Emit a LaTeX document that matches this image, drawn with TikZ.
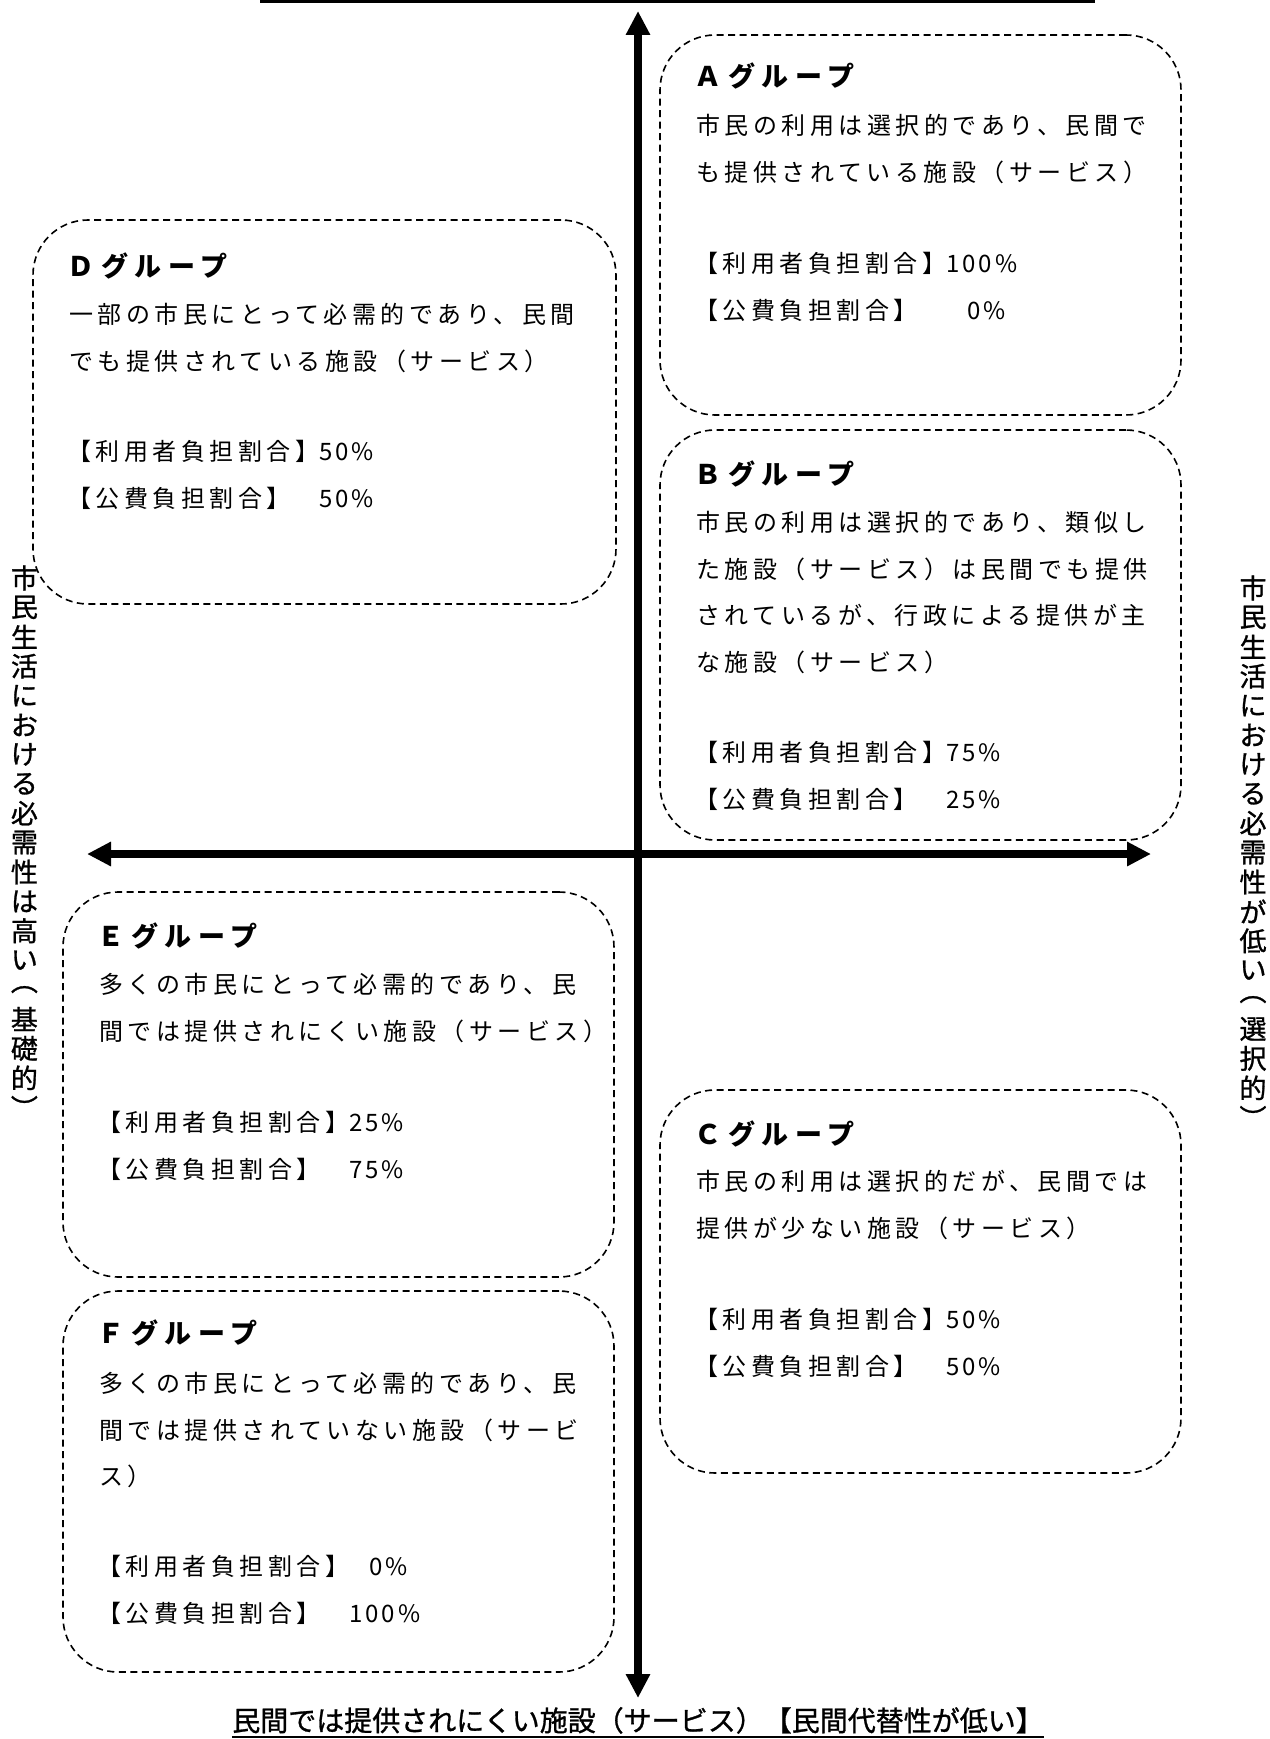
\documentclass[tikz,border=0pt]{standalone}
\usepackage{fontspec}
\usetikzlibrary{arrows.meta}
\newfontfamily\jpbody{Noto Sans CJK JP}[LetterSpace=18.75]
\newfontfamily\jpnum{Noto Sans CJK JP}[LetterSpace=12]
\newfontfamily\jptitle{Noto Sans CJK JP}[LetterSpace=25]
\newfontfamily\jplab{Noto Sans CJK JP}[FakeBold=1]
\newcommand\pc[1]{{\jpnum #1\%}}
\tikzset{
  grp/.style={draw, line width=1.6pt, dash pattern=on 7pt off 4.5pt, rounded corners=55pt, inner sep=0pt},
  bodytxt/.style={anchor=base west, inner sep=0pt, font=\jpbody\fontsize{24pt}{27pt}\selectfont},
  titletxt/.style={anchor=base west, inner sep=0pt, font=\jptitle\bfseries\fontsize{27pt}{32pt}\selectfont},
  sidetxt/.style={inner sep=0pt, font=\jplab\fontsize{27pt}{29pt}\selectfont},
  bottxt/.style={inner sep=0pt, anchor=base, font=\jplab\fontsize{28pt}{30pt}\selectfont},
  axisline/.style={line width=8pt, {Triangle[width=23pt,length=24pt]}-{Triangle[width=23pt,length=24pt]}},
}
\newcommand\txtlines[5]{%
  \foreach \tx [count=\i] in {#5}{%
    \node[bodytxt] (#2\i) at ([shift={(#3,{#4+(\i-1)*46.5})}]#1.north west) {\tx};
  }}
\begin{document}
\begin{tikzpicture}[x=1pt,y=-1pt]
\useasboundingbox (0,0) rectangle (1269,1739);

% top rule
\coordinate (tl) at (260,1.5);
\coordinate (tr) at (1095,1.5);
\draw[line width=3.5pt] (tl) -- (tr);

% axes
\coordinate (vt) at (638,11);
\coordinate (vb) at (638,1698);
\coordinate (hl) at (87,854);
\coordinate (hr) at (1151,854);
\draw[axisline] (vb) -- (vt);
\draw[axisline] (hl) -- (hr);

% boxes
\node[grp, minimum width=521pt, minimum height=380pt] (A) at (920.5,225) {};
\node[grp, minimum width=521pt, minimum height=410pt] (B) at (920.5,635) {};
\node[grp, minimum width=521pt, minimum height=383pt] (C) at (920.5,1281.5) {};
\node[grp, minimum width=583pt, minimum height=384pt] (D) at (324.5,412) {};
\node[grp, minimum width=551pt, minimum height=385pt] (E) at (338.5,1084.5) {};
\node[grp, minimum width=551pt, minimum height=381pt] (F) at (338.5,1481.5) {};

% titles
\node[titletxt] (At) at ([shift={(35,52)}]A.north west) {Ａグループ};
\node[titletxt] (Bt) at ([shift={(35,55)}]B.north west) {Ｂグループ};
\node[titletxt] (Ct) at ([shift={(35,55)}]C.north west) {Ｃグループ};
\node[titletxt] (Dt) at ([shift={(35,57)}]D.north west) {Ｄグループ};
\node[titletxt] (Et) at ([shift={(35,55)}]E.north west) {Ｅグループ};
\node[titletxt] (Ft) at ([shift={(35,53)}]F.north west) {Ｆグループ};

% body text
\txtlines{A}{Ab}{37}{100.5}{市民の利用は選択的であり、民間で,も提供されている施設（サービス）}
\txtlines{A}{Ap}{35}{238.5}{【利用者負担割合】\pc{100},【公費負担割合】　\hspace{21pt}\pc{0}}

\txtlines{B}{Bb}{37}{102.5}{市民の利用は選択的であり、類似し,た施設（サービス）は民間でも提供,されているが、行政による提供が主,な施設（サービス）}
\txtlines{B}{Bp}{35}{332.5}{【利用者負担割合】\pc{75},【公費負担割合】　\pc{25}}

\txtlines{C}{Cb}{37}{101.5}{市民の利用は選択的だが、民間では,提供が少ない施設（サービス）}
\txtlines{C}{Cp}{35}{239.5}{【利用者負担割合】\pc{50},【公費負担割合】　\pc{50}}

\txtlines{D}{Db}{37}{104.5}{一部の市民にとって必需的であり、民間,でも提供されている施設（サービス）}
\txtlines{D}{Dp}{35}{241.5}{【利用者負担割合】\pc{50},【公費負担割合】　\pc{50}}

\txtlines{E}{Eb}{37}{102.5}{多くの市民にとって必需的であり、民,間では提供されにくい施設（サービス）}
\txtlines{E}{Ep}{35}{240.5}{【利用者負担割合】\pc{25},【公費負担割合】　\pc{75}}

\txtlines{F}{Fb}{37}{102.5}{多くの市民にとって必需的であり、民,間では提供されていない施設（サービ,ス）}
\txtlines{F}{Fp}{35}{285.5}{【利用者負担割合】\hspace{20pt}\pc{0},【公費負担割合】　\pc{100}}

% side labels (vertical)
\foreach \c [count=\i] in {市,民,生,活,に,お,け,る,必,需,性,は,高,い,︵,基,礎,的,︶}
  \node[sidetxt] (lv\i) at (24.4,{578+(\i-1)*29.4}) {\c};
\foreach \c [count=\i] in {市,民,生,活,に,お,け,る,必,需,性,が,低,い,︵,選,択,的,︶}
  \node[sidetxt] (rv\i) at (1253,{588+(\i-1)*29.4}) {\c};

% bottom label
\node[bottxt] (bl) at (638,1731) {民間では提供されにくい施設（サービス）【民間代替性が低い】};
\draw[line width=2pt] ([yshift=-6pt]bl.base west) -- ([yshift=-6pt]bl.base east);
\end{tikzpicture}
\end{document}
